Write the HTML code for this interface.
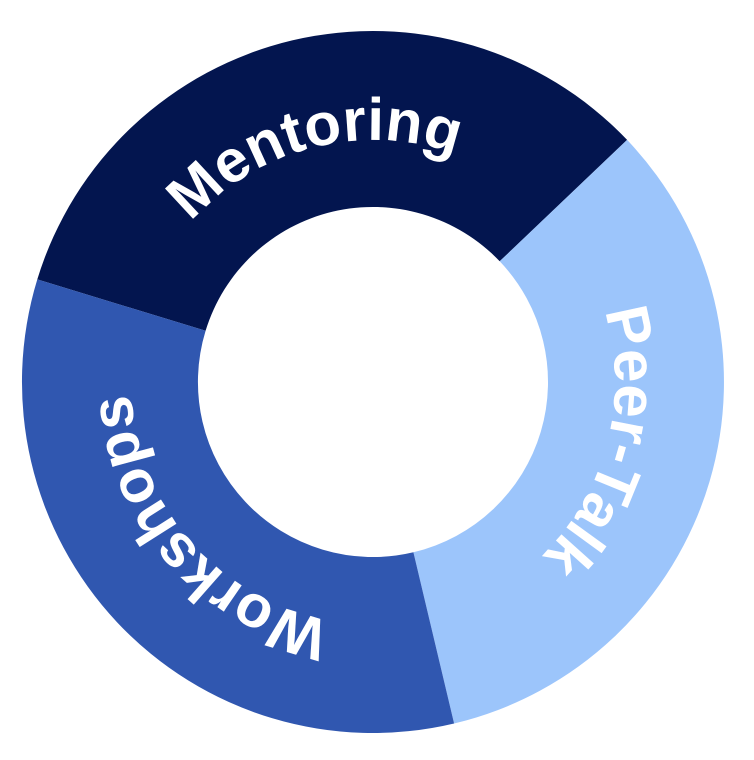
<!DOCTYPE html>
<html><head><meta charset="utf-8"><style>
html,body{margin:0;padding:0;background:#fff;}
svg{display:block}
text{font-family:"Liberation Sans",sans-serif;font-weight:bold;fill:#fff;font-size:60px;}
</style></head><body>
<svg width="754" height="760" viewBox="0 0 754 760">
<defs>
<path id="c" d="M131,382 A242,242 0 1,1 615,382 A242,242 0 1,1 131,382"/>
</defs>
<g transform="translate(373,382)">
<path d="M-335.7,-102.6 A351,351 0 0,1 254.1,-242.1 L126.7,-120.7 A175,175 0 0,0 -167.4,-51.2 Z" fill="#03154f"/>
<path d="M254.1,-242.1 A351,351 0 0,1 81.1,341.5 L40.4,170.3 A175,175 0 0,0 126.7,-120.7 Z" fill="#9cc5fb"/>
<path d="M81.1,341.5 A351,351 0 0,1 -335.7,-102.6 L-167.4,-51.2 A175,175 0 0,0 40.4,170.3 Z" fill="#3057b0"/>
</g>
<text><textPath href="#c" startOffset="21%" text-anchor="middle">Mentoring</textPath></text>
<text><textPath href="#c" startOffset="54%" text-anchor="middle">Peer-Talk</textPath></text>
<text><textPath href="#c" startOffset="88.5%" text-anchor="middle">Workshops</textPath></text>
</svg>
</body></html>
